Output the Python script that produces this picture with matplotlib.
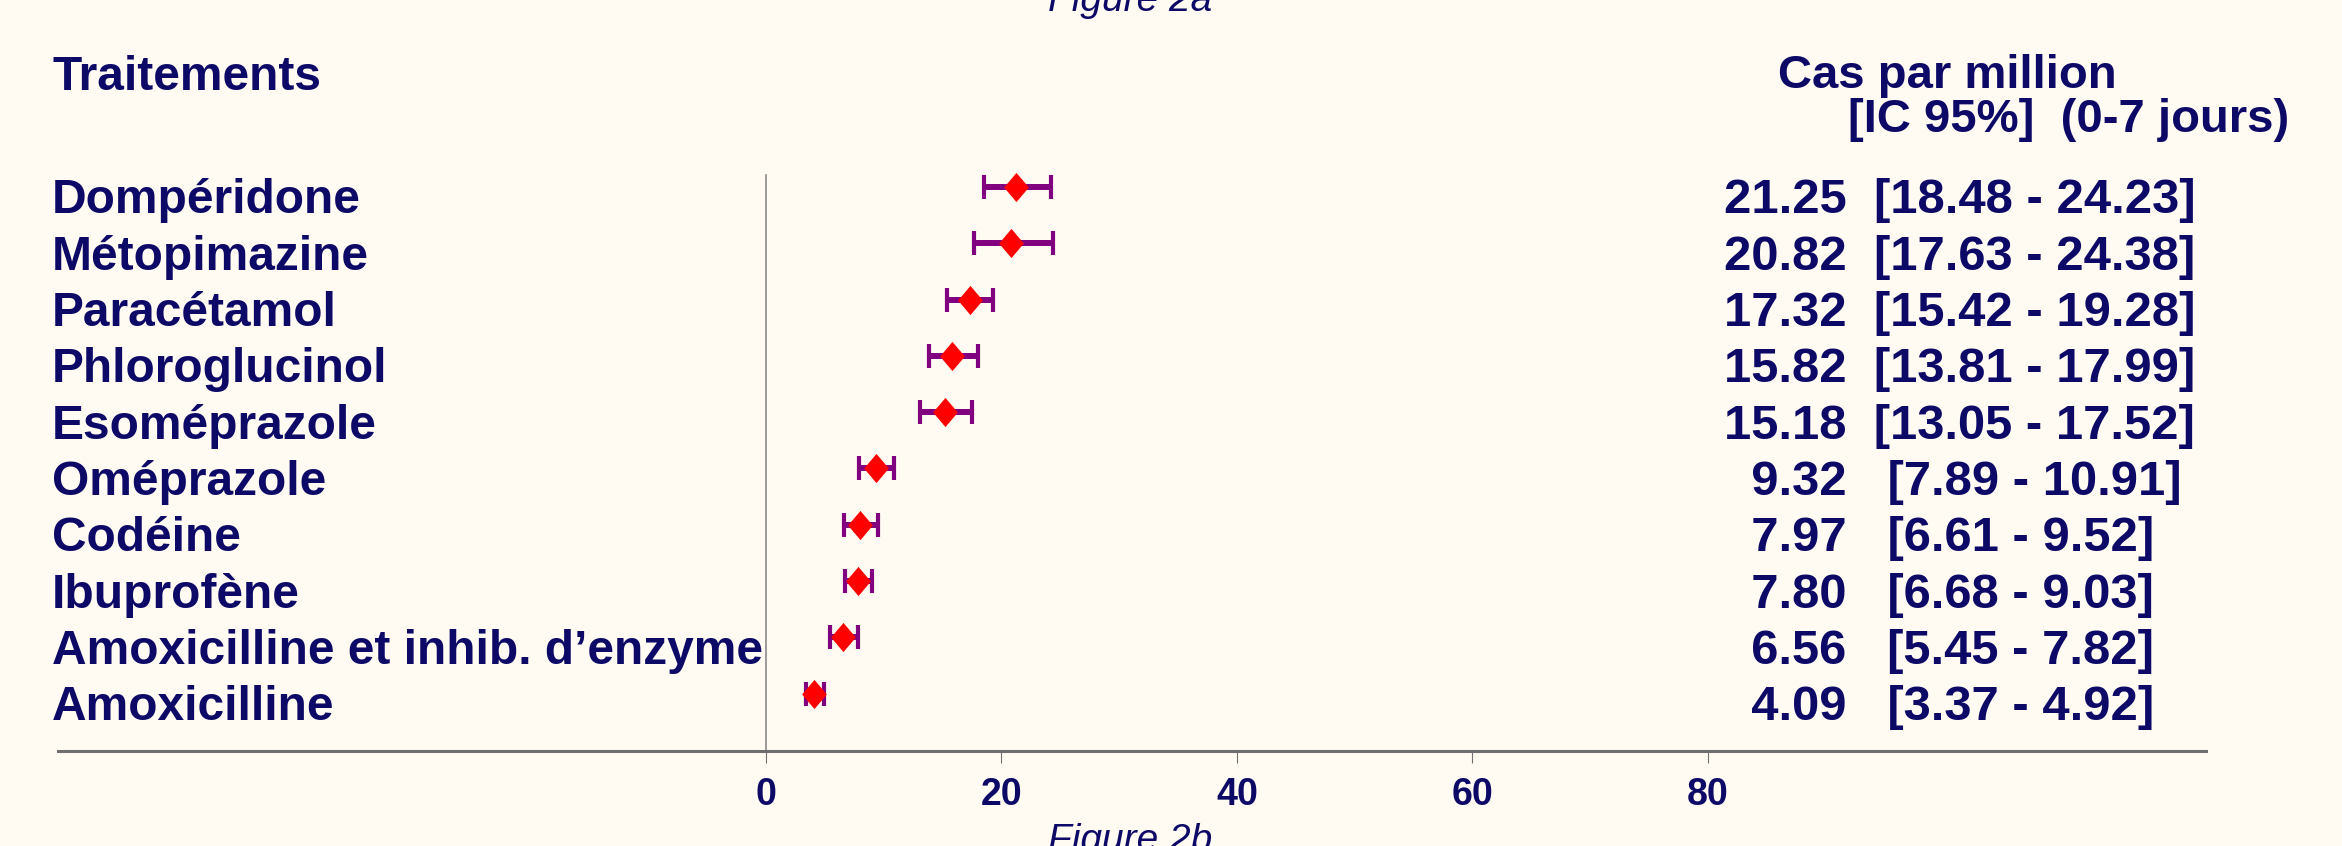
import numpy as np
import matplotlib.pyplot as plt
import matplotlib.transforms as mtransforms

plt.rcParams['font.family'] = ['Liberation Sans', 'DejaVu Sans']

# data
traitements = ['Dompéridone', 'Métopimazine', 'Paracétamol', 'Phloroglucinol',
               'Esoméprazole', 'Oméprazole', 'Codéine', 'Ibuprofène',
               'Amoxicilline et inhib. d\u2019enzyme', 'Amoxicilline']
cas = [21.25, 20.82, 17.32, 15.82, 15.18, 9.32, 7.97, 7.80, 6.56, 4.09]
ic_bas = [18.48, 17.63, 15.42, 13.81, 13.05, 7.89, 6.61, 6.68, 5.45, 3.37]
ic_haut = [24.23, 24.38, 19.28, 17.99, 17.52, 10.91, 9.52, 9.03, 7.82, 4.92]
xticks = [0, 20, 40, 60, 80]

navy = '#0c0a66'
bg = '#fffaf2'
W, H = 2342, 846

cas = np.array(cas); ic_bas = np.array(ic_bas); ic_haut = np.array(ic_haut)
rows = np.arange(len(traitements))

fig = plt.figure(figsize=(W/100, H/100), dpi=100, facecolor=bg)
ax = fig.add_axes([58/W, 95/H, 2148/W, 751/H])
ax.set_facecolor(bg)

ax.errorbar(cas, rows, xerr=[cas - ic_bas, ic_haut - cas], fmt='none',
            ecolor='#800080', elinewidth=4.3, capsize=8.5, capthick=3, zorder=2)
diamond = [(-0.85, 0), (0, 1), (0.85, 0), (0, -1), (-0.85, 0)]
ax.plot(cas, rows, linestyle='none', marker=diamond, markersize=21,
        color='#ff0000', markeredgewidth=0, zorder=3)

ax.set_xlim(-60.15, 122.34)
ax.set_ylim(10.018, -3.321)
ax.set_yticks([])
ax.set_xticks(xticks)
ax.set_xticklabels([str(t) for t in xticks], fontsize=27, fontweight='bold', color=navy)
ax.tick_params(axis='x', direction='out', length=8.6, width=0.8, color='#707070', pad=10)

for s in ['top', 'right']:
    ax.spines[s].set_visible(False)
ax.spines['left'].set_position(('data', 0))
ax.spines['left'].set_bounds(-0.22, 10.018)
ax.spines['left'].set_color('#8a8a8a')
ax.spines['left'].set_linewidth(1.2)
ax.spines['bottom'].set_color('#6e6e6e')
ax.spines['bottom'].set_linewidth(2.2)

tr = mtransforms.blended_transform_factory(fig.transFigure, ax.transData)
for i, name in enumerate(traitements):
    ax.text(0.022, i + 0.47, name, transform=tr, fontsize=34.5, fontweight='bold',
            color=navy, va='baseline', ha='left')
    if cas[i] < 10:
        s = '  %.2f   [%.2f - %.2f]' % (cas[i], ic_bas[i], ic_haut[i])
    else:
        s = '%.2f  [%.2f - %.2f]' % (cas[i], ic_bas[i], ic_haut[i])
    ax.text(1724/W, i + 0.47, s, transform=tr, fontsize=35.3, fontweight='bold',
            color=navy, va='baseline', ha='left')

fig.text(0.0226, 1 - 90/H, 'Traitements', fontsize=34.5, fontweight='bold', color=navy, va='baseline')
fig.text(1778/W, 1 - 88/H, 'Cas par million', fontsize=34, fontweight='bold', color=navy, va='baseline')
fig.text(1848/W, 1 - 132/H, '[IC 95%]  (0-7 jours)', fontsize=34, fontweight='bold', color=navy, va='baseline')
fig.text(1130/W, 1 - 11/H, 'Figure 2a', fontsize=28, style='italic', color=navy, va='baseline', ha='center')
fig.text(1130/W, 1 - 851/H, 'Figure 2b', fontsize=28, style='italic', color=navy, va='baseline', ha='center')

fig.savefig('out.png', dpi=100, facecolor=bg)
